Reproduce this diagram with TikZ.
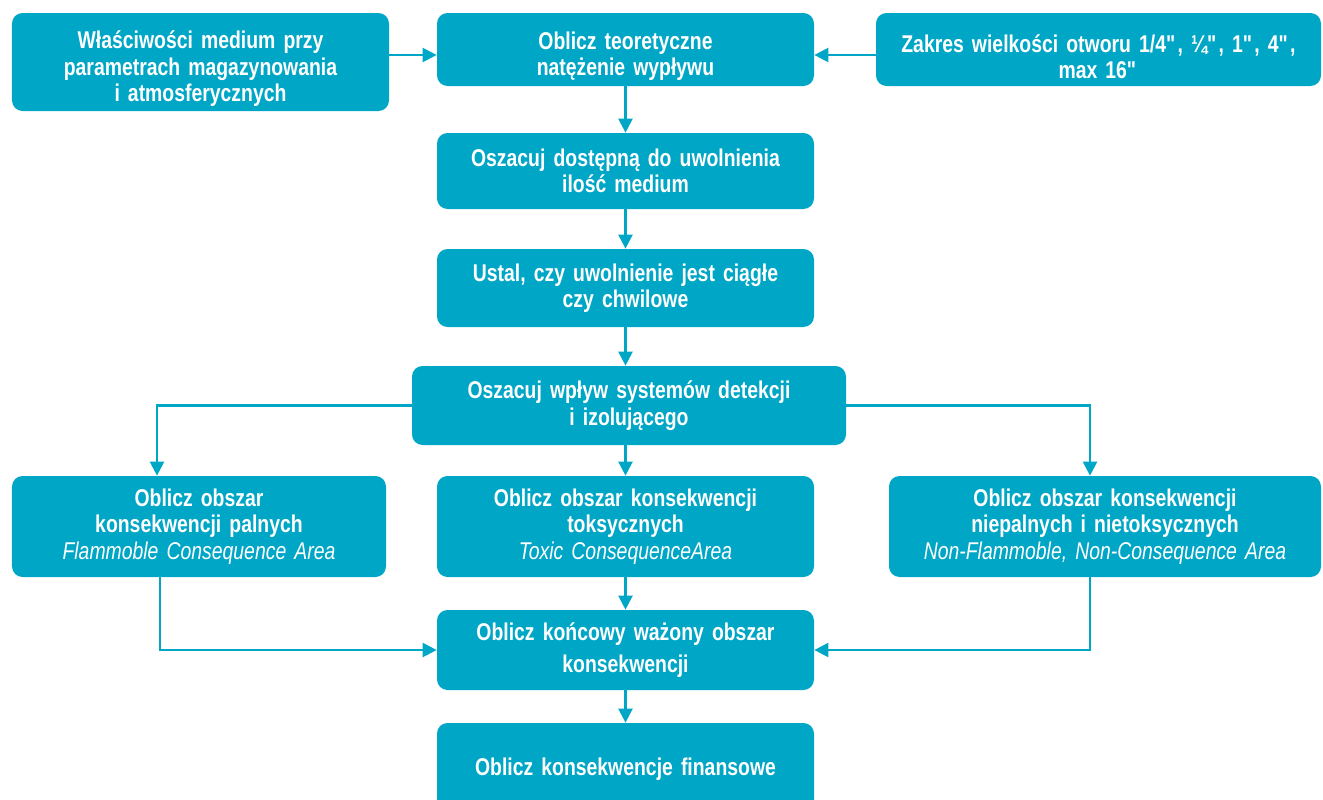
\documentclass[tikz,border=0pt]{standalone}
\usepackage{fontspec}
\setmainfont{Liberation Sans}[FakeStretch=0.80, WordSpace=0.75]
\usepackage{xcolor}
\usetikzlibrary{positioning, arrows.meta, calc}

\definecolor{boxblue}{HTML}{00A6C6}
\newcommand{\engname}[1]{{\mdseries\itshape #1}}
\newcommand{\inch}{\textquotedbl}
\newcommand{\lowerfirst}{\rule{0pt}{18pt}}

\begin{document}
\begin{tikzpicture}[
    every node/.style={font=\fontsize{13.8pt}{15pt}\selectfont\bfseries},
    block/.style={fill=boxblue, rounded corners=6pt, text=white, align=center,
      inner sep=2pt, minimum width=#1, text width=#1-0.3cm},
    block/.default=7.54cm,
    arrow/.style={-{Triangle[length=8pt, width=8pt]}, draw=boxblue, line width=1.3pt},
  ]

  \useasboundingbox (0,0) rectangle (26.46,-15.98);

  % --- Top row ---
  \node[block, minimum height=1.96cm] (props) at (4.01,-1.24)
    {\lowerfirst Właściwości medium przy\\parametrach magazynowania\\i atmosferycznych};
  \node[block, minimum height=1.46cm] (flow) at (12.51,-0.99)
    {\lowerfirst Oblicz teoretyczne\\natężenie wypływu};
  \node[block=8.9cm, minimum height=1.46cm] (holes) at (21.97,-0.99)
    {\lowerfirst Zakres wielkości otworu 1/4\inch, ¼\inch, 1\inch, 4\inch,\\max 16\inch};

  % --- Main chain ---
  \node[block, minimum height=1.52cm] (amount) at (12.51,-3.42)
    {Oszacuj dostępną do uwolnienia\\ilość medium};
  \node[block, minimum height=1.56cm] (mode) at (12.51,-5.76)
    {Ustal, czy uwolnienie jest ciągłe\\czy chwilowe};
  \node[block=8.68cm, minimum height=1.58cm] (detect) at (12.58,-8.11)
    {Oszacuj wpływ systemów detekcji\\i izolującego};

  % --- Consequence areas ---
  \node[block=7.48cm, minimum height=2.02cm] (flam) at (3.98,-10.53)
    {Oblicz obszar\\konsekwencji palnych\\\engname{Flammoble Consequence Area}};
  \node[block, minimum height=2.02cm] (toxic) at (12.51,-10.53)
    {Oblicz obszar konsekwencji\\toksycznych\\\engname{Toxic ConsequenceArea}};
  \node[block=8.64cm, minimum height=2.02cm] (nonflam) at (22.1,-10.53)
    {Oblicz obszar konsekwencji\\niepalnych i nietoksycznych\\\engname{Non-Flammoble, Non-Consequence Area}};

  % --- Bottom ---
  \node[block, minimum height=1.6cm] (weighted) at (12.51,-13.0)
    {Oblicz końcowy ważony obszar\\[3pt]konsekwencji};
  \node[block, minimum height=1.84cm] (finance) at (12.51,-15.38)
    {Oblicz konsekwencje finansowe};

  % --- Arrows ---
  \draw[arrow] ([yshift=0.14cm]props.east) -- ([yshift=0.14cm]props.east -| flow.west);
  \draw[arrow] ([yshift=-0.11cm]holes.west) -- ([yshift=-0.11cm]flow.east);

  \draw[arrow] (flow.south) -- (amount.north);
  \draw[arrow] (amount.south) -- (mode.north);
  \draw[arrow] (mode.south) -- (detect.north -| mode.south);
  \draw[arrow] (detect.south -| toxic.north) -- (toxic.north);

  \draw[arrow] (detect.west) -| ([xshift=-0.84cm]flam.north);
  \draw[arrow] (detect.east) -| ([xshift=-0.3cm]nonflam.north);

  \draw[arrow] (toxic.south) -- (weighted.north);
  \draw[arrow] ([xshift=-0.78cm]flam.south) |- (weighted.west);
  \draw[arrow] ([xshift=-0.3cm]nonflam.south) |- (weighted.east);

  \draw[arrow] (weighted.south) -- (finance.north);

\end{tikzpicture}
\end{document}
